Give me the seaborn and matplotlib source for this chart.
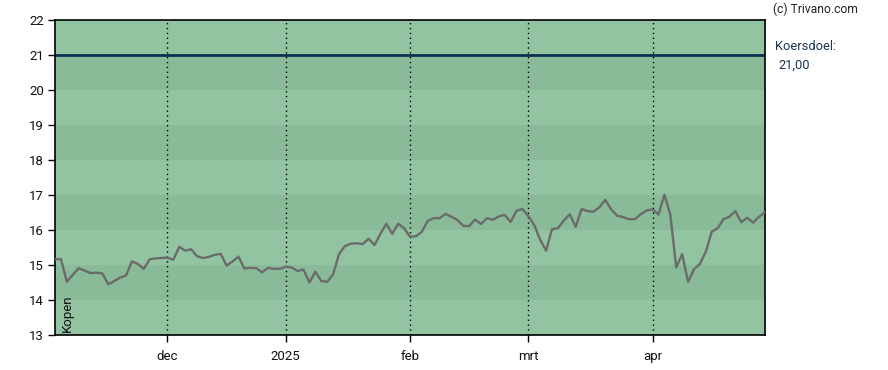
import pandas as pd
import matplotlib
matplotlib.use("Agg")
import matplotlib.pyplot as plt
import seaborn as sns

# daily close prices (trading days, early nov 2024 - end apr 2025)
prices = [
    15.16, 15.17, 14.52, 14.72, 14.91, 14.84, 14.77, 14.78, 14.76, 14.45,
    14.54, 14.64, 14.70, 15.10, 15.03, 14.89, 15.16, 15.19, 15.20, 15.21,
    15.15, 15.52, 15.41, 15.45, 15.25, 15.20, 15.23, 15.29, 15.32, 14.98,
    15.10, 15.24, 14.90, 14.92, 14.91, 14.79, 14.92, 14.89, 14.89, 14.95,
    14.93, 14.83, 14.87, 14.50, 14.81, 14.54, 14.52, 14.73, 15.31, 15.54,
    15.61, 15.62, 15.60, 15.75, 15.57, 15.89, 16.18, 15.89, 16.18, 16.05,
    15.81, 15.82, 15.95, 16.26, 16.34, 16.34, 16.46, 16.38, 16.29, 16.12,
    16.11, 16.30, 16.17, 16.34, 16.29, 16.39, 16.43, 16.23, 16.55, 16.60,
    16.40, 16.14, 15.72, 15.41, 16.02, 16.05, 16.27, 16.45, 16.09, 16.60,
    16.54, 16.52, 16.65, 16.86, 16.59, 16.41, 16.37, 16.31, 16.31, 16.45,
    16.56, 16.59, 16.44, 17.01, 16.44, 14.93, 15.31, 14.52, 14.88, 15.03,
    15.38, 15.95, 16.05, 16.31, 16.38, 16.54, 16.22, 16.35, 16.21, 16.38,
    16.51,
]
month_labels = ["dec", "2025", "feb", "mrt", "apr"]
month_index = [19, 39, 60, 80, 101]   # first trading day of each month
target = 21.0
advice = "Kopen"

df = pd.DataFrame({"day": range(len(prices)), "close": prices})

sns.set_style("white")
plt.rcParams["font.family"] = ["Roboto", "DejaVu Sans"]

fig = plt.figure(figsize=(8.88, 3.70), dpi=100)
ax = fig.add_axes([55 / 888, 1 - 335 / 370, 710 / 888, 315 / 370])

# alternating background bands
light, dark = "#92c4a1", "#8abb99"
for lo in range(13, 22):
    ax.axhspan(lo, lo + 1, color=light if (22 - lo) % 2 == 1 else dark, lw=0, zorder=0)

for m in month_index:
    ax.axvline(m, color="black", lw=1, ls=(0, (1, 2.5)), zorder=1)

ax.axhline(target, color="#0b2e4f", lw=2, zorder=2)
sns.lineplot(data=df, x="day", y="close", ax=ax, color="#6b6b6b", lw=1.7, zorder=3)

ax.set_xlim(0, len(prices) - 1)
ax.set_ylim(13, 22)
ax.set_yticks(range(13, 23))
ax.set_xticks(month_index)
ax.set_xticklabels(month_labels)
ax.set_xlabel("")
ax.set_ylabel("")
ax.tick_params(axis="both", direction="out", length=5, width=1, color="black",
               labelsize=9.5, labelcolor="#111111", pad=3)
ax.tick_params(axis="x", pad=6)
ax.yaxis.set_ticks_position("left")
ax.xaxis.set_ticks_position("bottom")
for sp in ax.spines.values():
    sp.set_color("black")
    sp.set_linewidth(1.2)

ax.text(0.008, 0.01, advice, transform=ax.transAxes, rotation=90,
        ha="left", va="bottom", fontsize=9.5, color="#111111")

fig.text(773 / 888, 1 - 9 / 370, "(c) Trivano.com", ha="left", va="center",
         fontsize=8.7, color="#222222")
fig.text(775 / 888, 1 - 46 / 370, "Koersdoel:", ha="left", va="center",
         fontsize=9.3, color="#1c3550")
fig.text(778 / 888, 1 - 65 / 370, "21,00", ha="left", va="center",
         fontsize=9.3, color="#1c3550")

fig.savefig("out.png", dpi=100)
